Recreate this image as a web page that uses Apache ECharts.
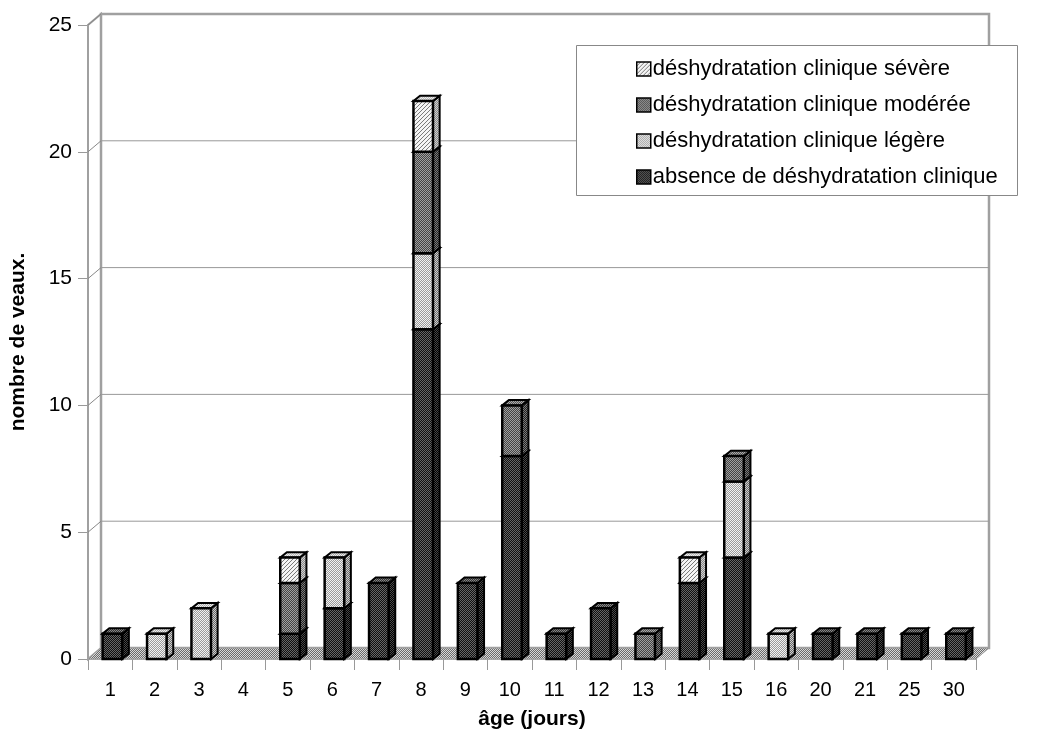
<!DOCTYPE html>
<html>
<head>
<meta charset="utf-8">
<script src="https://cdn.jsdelivr.net/npm/echarts@6/dist/echarts.min.js"></script>
<style>html,body{margin:0;padding:0;background:#fff}#c{width:1044px;height:735px}</style>
</head>
<body>
<div id="c"></div>
<script>
const categories = ['1','2','3','4','5','6','7','8','9','10','11','12','13','14','15','16','20','21','25','30'];
const absence  = [1,0,0,0,1,2,3,13,3,8,1,2,0,3,4,0,1,1,1,1];
const legere   = [0,1,2,0,0,2,0,3,0,0,0,0,0,0,3,1,0,0,0,0];
const moderee  = [0,0,0,0,2,0,0,4,0,2,0,0,1,0,1,0,0,0,0,0];
const severe   = [0,0,0,0,1,0,0,2,0,0,0,0,0,1,0,0,0,0,0,0];
const seriesNames = ['absence de déshydratation clinique','déshydratation clinique légère','déshydratation clinique modérée','déshydratation clinique sévère'];
const yTicks = [0,5,10,15,20,25];

const SERIES = [absence, legere, moderee, severe];

function checker(a, b) {
  const c = document.createElement('canvas'); c.width = 2; c.height = 2;
  const g = c.getContext('2d');
  g.fillStyle = a; g.fillRect(0,0,2,2);
  g.fillStyle = b; g.fillRect(0,0,1,1); g.fillRect(1,1,1,1);
  return {image: c, repeat: 'repeat'};
}
function hatch(bg, line) {
  const c = document.createElement('canvas'); c.width = 4; c.height = 4;
  const g = c.getContext('2d');
  g.fillStyle = bg; g.fillRect(0,0,4,4);
  g.fillStyle = line;
  g.fillRect(3,0,1,1); g.fillRect(2,1,1,1); g.fillRect(1,2,1,1); g.fillRect(0,3,1,1);
  return {image: c, repeat: 'repeat'};
}

const FRONT = [checker('#101010','#666666'), checker('#9a9a9a','#f2f2f2'), checker('#444444','#a0a0a0'), hatch('#f4f4f4','#7a7a7a')];
const SIDE  = [checker('#000','#484848'), checker('#6a6a6a','#cfcfcf'), checker('#222','#7a7a7a'), checker('#888','#d0d0d0')];
const TOP   = [checker('#333','#888'), checker('#aaa','#eee'), checker('#555','#aaa'), checker('#bbb','#eee')];
const FLOOR = checker('#6a6a6a','#d8d8d8');

function makeRender(k) {
  return function (params, api) {
    const i = api.value(0), v = api.value(1);
    if (!v) return null;
    let base = 0;
    for (let j = 0; j < k; j++) base += SERIES[j][i];
    const p0 = api.coord([i, base]);
    const p1 = api.coord([i, base + v]);
    const bw = api.size([1, 0])[0];
    const w = bw * 0.44;
    const x = p0[0] - w / 2 + bw * 0.05;
    const dx = bw * 0.15, dy = -bw * 0.12;
    const y0 = p0[1], y1 = p1[1];
    return {
      type: 'group',
      children: [
        {type: 'polygon', shape: {points: [[x + w, y1], [x + w + dx, y1 + dy], [x + w + dx, y0 + dy], [x + w, y0]]},
         style: {fill: SIDE[k], stroke: '#000', lineWidth: 2}},
        {type: 'polygon', shape: {points: [[x, y1], [x + dx, y1 + dy], [x + w + dx, y1 + dy], [x + w, y1]]},
         style: {fill: TOP[k], stroke: '#000', lineWidth: 2}},
        {type: 'rect', shape: {x: x, y: y1, width: w, height: y0 - y1},
         style: {fill: FRONT[k], stroke: '#000', lineWidth: 2.5}}
      ]
    };
  };
}

function renderWalls(params, api) {
  const cs = params.coordSys;
  const dx = 13, dy = -11;
  const L = cs.x, R = cs.x + cs.width, T = cs.y, B = cs.y + cs.height;
  const children = [];
  children.push({type: 'polygon', shape: {points: [[L, T], [L + dx, T + dy], [L + dx, B + dy], [L, B]]},
    style: {fill: '#fff', stroke: '#a0a0a0', lineWidth: 2}});
  children.push({type: 'rect', shape: {x: L + dx, y: T + dy, width: R - L, height: B - T},
    style: {fill: '#fff', stroke: '#a0a0a0', lineWidth: 2.5}});
  children.push({type: 'polygon', shape: {points: [[L, B], [L + dx, B + dy], [R + dx, B + dy], [R, B]]},
    style: {fill: FLOOR, stroke: '#a0a0a0', lineWidth: 1}});
  yTicks.forEach(function (t) {
    if (t === 0 || t === 25) {
      if (t === 25) children.push({type: 'line', shape: {x1: L, y1: T, x2: L + dx, y2: T + dy}, style: {stroke: '#888', lineWidth: 1}});
      return;
    }
    const y = api.coord([0, t])[1];
    children.push({type: 'line', shape: {x1: L, y1: y, x2: L + dx, y2: y + dy}, style: {stroke: '#888', lineWidth: 1}});
    children.push({type: 'line', shape: {x1: L + dx, y1: y + dy, x2: R + dx, y2: y + dy}, style: {stroke: '#999', lineWidth: 1}});
  });
  return {type: 'group', children: children};
}

const chart = echarts.init(document.getElementById('c'), null, {renderer: 'canvas'});

const series = [{
  type: 'custom', name: '_walls', silent: true, renderItem: renderWalls,
  data: [[0, 0]], encode: {x: 0, y: 1}, z: 1
}];
SERIES.forEach(function (arr, k) {
  series.push({
    type: 'custom', name: seriesNames[k], renderItem: makeRender(k),
    itemStyle: {color: FRONT[k]},
    data: arr.map(function (v, i) { return [i, v]; }),
    encode: {x: 0, y: 1}, z: 2
  });
});

chart.setOption({
  animation: false,
  backgroundColor: '#fff',
  textStyle: {fontFamily: '"Liberation Sans", Arial, Helvetica, sans-serif'},
  grid: {left: 87, right: 68, top: 25, bottom: 72, containLabel: false},
  xAxis: {
    type: 'category', data: categories,
    axisLine: {show: true, lineStyle: {color: '#999', width: 1.5}},
    axisTick: {show: true, length: 11, lineStyle: {color: '#999'}},
    axisLabel: {fontSize: 20, color: '#000', margin: 21},
    splitLine: {show: false},
    name: 'âge (jours)', nameLocation: 'middle', nameGap: 50,
    nameTextStyle: {fontSize: 21, fontWeight: 'bold', color: '#000'}
  },
  yAxis: {
    type: 'value', min: 0, max: 25, interval: 5,
    axisLine: {show: true, lineStyle: {color: '#a0a0a0', width: 2.5}},
    axisTick: {show: true, length: 10, lineStyle: {color: '#999'}},
    axisLabel: {fontSize: 21, color: '#000', margin: 16},
    splitLine: {show: false},
    name: 'nombre de veaux.', nameLocation: 'middle', nameGap: 59,
    nameTextStyle: {fontSize: 21, fontWeight: 'bold', color: '#000'}
  },
  legend: {
    orient: 'vertical', left: 631, top: 53, z: 20,
    data: [seriesNames[3], seriesNames[2], seriesNames[1], seriesNames[0]],
    icon: 'rect', itemWidth: 14, itemHeight: 14, itemGap: 14,
    itemStyle: {borderColor: '#000', borderWidth: 1.5},
    textStyle: {fontSize: 22, color: '#000', padding: [0, 0, 0, -3]}
  },
  graphic: [{
    type: 'rect', z: 10, left: 576, top: 45,
    shape: {width: 441, height: 150},
    style: {fill: '#fff', stroke: '#888', lineWidth: 1}
  }],
  series: series
});
</script>
</body>
</html>
